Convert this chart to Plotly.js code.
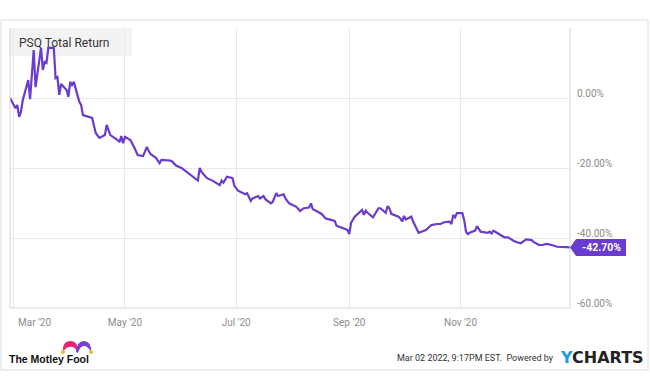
<!DOCTYPE html>
<html>
<head>
<meta charset="utf-8">
<script src="https://cdn.plot.ly/plotly-3.0.1.min.js"></script>
<style>
html,body{margin:0;padding:0;background:#fff;}
#chart{width:650px;height:390px;}
</style>
</head>
<body>
<div id="chart"></div>
<script>
// ---- data ----
const seriesName = 'PSQ Total Return';
const dates = [
'2020-02-28','2020-03-02','2020-03-03','2020-03-04','2020-03-05','2020-03-06','2020-03-09','2020-03-10','2020-03-12','2020-03-13',
'2020-03-16','2020-03-17','2020-03-18','2020-03-19','2020-03-20','2020-03-23','2020-03-24','2020-03-25','2020-03-26','2020-03-27',
'2020-03-30','2020-03-31','2020-04-01','2020-04-02','2020-04-03','2020-04-06','2020-04-07','2020-04-08','2020-04-13','2020-04-15',
'2020-04-17','2020-04-20','2020-04-21','2020-04-23','2020-04-27','2020-04-28','2020-04-29','2020-04-30','2020-05-01','2020-05-04',
'2020-05-06','2020-05-08','2020-05-11','2020-05-13','2020-05-14','2020-05-15','2020-05-18','2020-05-20','2020-05-21','2020-05-26',
'2020-05-27','2020-05-29','2020-06-01','2020-06-03','2020-06-05','2020-06-08','2020-06-10','2020-06-11','2020-06-12','2020-06-15',
'2020-06-18','2020-06-22','2020-06-23','2020-06-24','2020-06-26','2020-06-29','2020-06-30','2020-07-02','2020-07-06','2020-07-07',
'2020-07-09','2020-07-10','2020-07-13','2020-07-14','2020-07-16','2020-07-17','2020-07-20','2020-07-21','2020-07-23','2020-07-24',
'2020-07-27','2020-07-28','2020-07-30','2020-08-03','2020-08-05','2020-08-07','2020-08-10','2020-08-11','2020-08-12','2020-08-14',
'2020-08-17','2020-08-19','2020-08-24','2020-08-25','2020-08-27','2020-08-31','2020-09-01','2020-09-02','2020-09-04','2020-09-08',
'2020-09-09','2020-09-10','2020-09-11','2020-09-14','2020-09-17','2020-09-18','2020-09-21','2020-09-22','2020-09-23','2020-09-24',
'2020-09-28','2020-09-29','2020-09-30','2020-10-01','2020-10-02','2020-10-05','2020-10-06','2020-10-08','2020-10-09','2020-10-13',
'2020-10-16','2020-10-19','2020-10-21','2020-10-23','2020-10-26','2020-10-27','2020-10-28','2020-10-29','2020-10-30','2020-11-02',
'2020-11-03','2020-11-04','2020-11-05','2020-11-06','2020-11-09','2020-11-10','2020-11-11','2020-11-12','2020-11-16','2020-11-17',
'2020-11-18','2020-11-19','2020-11-20','2020-11-23','2020-11-25','2020-11-27','2020-11-30','2020-12-02','2020-12-04','2020-12-07',
'2020-12-10','2020-12-11','2020-12-14','2020-12-16','2020-12-18','2020-12-21','2020-12-24','2020-12-29','2020-12-31'
];
const totalReturn = [
0.0,-2.9,-2.0,-5.4,-4.0,-0.6,5.1,-0.3,13.7,3.1,
14.3,8.0,10.3,10.0,14.3,14.3,5.7,6.0,0.9,4.0,
2.3,0.3,4.6,3.7,4.6,-1.1,-2.0,-4.9,-5.7,-10.0,
-11.4,-10.6,-7.7,-10.6,-12.0,-12.6,-10.9,-12.9,-11.1,-12.0,
-14.0,-16.3,-16.6,-14.0,-15.1,-16.0,-17.1,-18.6,-17.7,-17.9,
-18.2,-19.3,-20.0,-20.8,-21.4,-22.8,-23.6,-20.0,-21.1,-22.9,
-23.6,-24.9,-23.6,-24.2,-22.5,-22.9,-25.1,-26.5,-27.5,-27.2,
-29.4,-28.7,-28.0,-28.7,-28.0,-28.9,-30.1,-29.7,-27.2,-28.0,
-27.5,-28.7,-30.1,-31.1,-32.3,-31.5,-31.3,-30.1,-31.8,-32.3,
-33.2,-34.4,-35.1,-36.5,-36.9,-37.7,-38.9,-35.6,-33.9,-32.0,
-33.4,-32.2,-32.8,-34.1,-31.5,-31.5,-32.8,-30.9,-31.5,-33.1,
-33.9,-34.4,-35.3,-33.7,-34.7,-33.9,-35.3,-37.2,-38.5,-37.7,
-36.3,-36.0,-36.0,-35.5,-35.3,-36.0,-33.4,-34.1,-32.9,-32.9,
-34.9,-38.2,-38.9,-38.5,-37.9,-36.6,-37.5,-38.2,-38.5,-38.2,
-38.7,-37.9,-38.2,-39.1,-39.8,-39.8,-40.8,-41.2,-41.5,-40.4,
-40.6,-41.1,-42.0,-42.0,-41.7,-42.0,-42.5,-42.6,-42.70
];
const xTickDates = ['2020-03-01','2020-05-01','2020-07-01','2020-09-01','2020-11-01'];
const xTickLabels = ["Mar '20","May '20","Jul '20","Sep '20","Nov '20"];
const yTickValues = [-60,-40,-20,0];
const yTickLabels = ['-60.00%','-40.00%','-20.00%','0.00%'];
const footerLeft = 'The Motley Fool';
const footerRight = 'Mar 02 2022, 9:17PM EST.  Powered by';
const brandY = 'Y';
const brandRest = 'CHARTS';

// ---- layout helpers (pixel -> paper) ----
const W = 650, H = 390, M = {l:10, r:80, t:28, b:82};
const PW = W - M.l - M.r, PH = H - M.t - M.b;
const px = x => (x - M.l) / PW;
const py = y => (M.t + PH - y) / PH;
function pathFrom(cmds){
  return cmds.map(c => c[0] + ' ' + c.slice(1).map((v,i)=> (i%2===0? px(v): py(v)).toFixed(4)).join(',')).join(' ') + ' Z';
}

const purple = '#6a3bcf';
const tickFont = {family:'Roboto, sans-serif', size:10, color:'#8c8c8c'};
const lastVal = totalReturn[totalReturn.length-1];
const lastDate = dates[dates.length-1];

const trace = {
  type:'scatter', mode:'lines', x:dates, y:totalReturn, name:seriesName,
  line:{color:purple, width:2.2}, hoverinfo:'skip'
};

const shapes = [
  {type:'rect', xref:'paper', yref:'paper', x0:px(1), x1:px(648), y0:py(370), y1:py(20), line:{color:'#dcdcdc', width:1}, fillcolor:'rgba(0,0,0,0)', layer:'below'},
  {type:'rect', xref:'paper', yref:'paper', xsizemode:'pixel', ysizemode:'pixel', xanchor:0, yanchor:1, x0:0, x1:122, y0:-28, y1:0, fillcolor:'#f3f3f3', line:{width:0}, layer:'below'},
  {type:'line', xref:'paper', yref:'paper', x0:0, x1:0, y0:0, y1:1, line:{color:'#d6d6d6', width:1}},
  {type:'line', xref:'paper', yref:'paper', x0:1, x1:1, y0:0, y1:1, line:{color:'#d6d6d6', width:1}},
  {type:'line', xref:'paper', yref:'paper', x0:0, x1:1, y0:0, y1:0, line:{color:'#d6d6d6', width:1}},
  {type:'path', xref:'paper', yref:'y', xsizemode:'pixel', ysizemode:'pixel', xanchor:1, yanchor:lastVal,
   path:'M 0,0 L 6,8.5 L 56,8.5 L 56,-8.5 L 6,-8.5 Z', fillcolor:purple, line:{width:0}},
  {type:'path', xref:'paper', yref:'paper', fillcolor:'#e8276f', line:{width:0},
   path:pathFrom([['M',63,352],['Q',62,341,71,341],['Q',78,341,78,352],['Q',74,346,70,347],['Q',66,347,63,352]])},
  {type:'path', xref:'paper', yref:'paper', fillcolor:'#7a3fd1', line:{width:0},
   path:pathFrom([['M',76,352],['Q',77,341,84,341],['Q',92,342,91,352],['Q',88,346,84,346],['Q',80,346,78,353]])},
  {type:'circle', xref:'paper', yref:'paper', x0:px(61), x1:px(65), y0:py(354), y1:py(350), fillcolor:'#f2b632', line:{width:0}},
  {type:'circle', xref:'paper', yref:'paper', x0:px(89), x1:px(93), y0:py(354), y1:py(350), fillcolor:'#f2b632', line:{width:0}},
];

const annotations = [
  {xref:'paper', yref:'paper', x:0, y:1, xshift:7, yshift:-15, xanchor:'left', yanchor:'middle', showarrow:false,
   text:seriesName, font:{family:'Roboto, sans-serif', size:12, color:'#333'}},
  {xref:'paper', yref:'paper', x:px(34), y:py(322), xanchor:'center', yanchor:'middle', showarrow:false,
   text:xTickLabels[0], font:tickFont},
  {xref:'paper', yref:'y', x:1, y:lastVal, xshift:31, xanchor:'center', yanchor:'middle', showarrow:false,
   text:lastVal.toFixed(2)+'%', font:{family:'Roboto, sans-serif', size:10.5, color:'#fff', weight:700}},
  {xref:'paper', yref:'paper', x:px(7), y:py(359), xanchor:'left', yanchor:'middle', showarrow:false,
   text:footerLeft, font:{family:'Liberation Sans, Arial, sans-serif', size:10.5, color:'#111', weight:700}},
  {xref:'paper', yref:'paper', x:px(556), y:py(358), xanchor:'right', yanchor:'middle', showarrow:false,
   text:footerRight, font:{family:'Roboto, sans-serif', size:9, color:'#333'}},
  {xref:'paper', yref:'paper', x:px(646), y:py(357), xanchor:'right', yanchor:'middle', showarrow:false,
   text:'<span style="color:#1a9de0">'+brandY+'</span>'+brandRest, font:{family:'DejaVu Sans, sans-serif', size:16, color:'#222', weight:700}},
];

const layout = {
  width:W, height:H, margin:M, paper_bgcolor:'#fff', plot_bgcolor:'#fff', showlegend:false,
  xaxis:{type:'date', range:[dates[0], lastDate], tickvals:xTickDates, ticktext:['',...xTickLabels.slice(1)],
    showgrid:true, gridcolor:'#e9e9e9', gridwidth:1, zeroline:false, showline:false, ticks:'', tickfont:tickFont,
    ticklabelstandoff:7, fixedrange:true},
  yaxis:{side:'right', range:[-60,20], tickvals:yTickValues, ticktext:yTickLabels, showgrid:true, gridcolor:'#e9e9e9', gridwidth:1,
    zeroline:false, showline:false, ticks:'', tickfont:tickFont, ticklabelshift:-5, ticklabelstandoff:6, fixedrange:true},
  shapes:shapes, annotations:annotations
};

Plotly.newPlot('chart', [trace], layout, {staticPlot:true, displayModeBar:false});
</script>
</body>
</html>
